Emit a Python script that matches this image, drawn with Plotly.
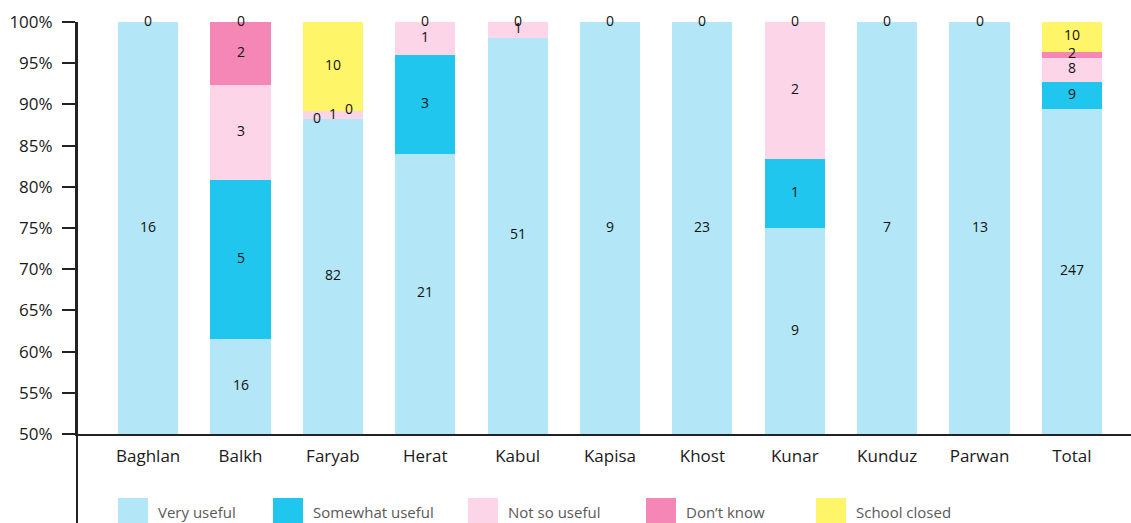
import numpy as np
import plotly.graph_objects as go

categories = ["Baghlan", "Balkh", "Faryab", "Herat", "Kabul", "Kapisa", "Khost",
              "Kunar", "Kunduz", "Parwan", "Total"]
very_useful = [16, 16, 82, 21, 51, 9, 23, 9, 7, 13, 247]
somewhat_useful = [0, 5, 0, 3, None, 0, 0, 1, 0, 0, 9]
not_so_useful = [0, 3, 1, 1, 1, 0, 0, 2, 0, 0, 8]
dont_know = [0, 2, 0, 0, 0, 0, 0, 0, 0, 0, 2]
school_closed = [0, 0, 10, 0, 0, 0, 0, 0, 0, 0, 10]

series_names = ["Very useful", "Somewhat useful", "Not so useful", "Don’t know", "School closed"]
series_values = [very_useful, somewhat_useful, not_so_useful, dont_know, school_closed]
series_colors = ["#B3E7F8", "#21C6EE", "#FDD5E8", "#F587B6", "#FFF568"]
y_ticks = [50, 55, 60, 65, 70, 75, 80, 85, 90, 95, 100]

FONT = "Open Sans"
W, H = 1131, 523
ML, MR, MT, MB = 77, 0, 22, 89
PW, PH = W - ML - MR, H - MT - MB
Y0, Y1 = y_ticks[0], y_ticks[-1]

fig = go.Figure()
for name, vals, col in zip(series_names, series_values, series_colors):
    fig.add_trace(go.Bar(x=categories, y=vals, name=name, marker_color=col,
                         marker_line_width=0, width=0.65, showlegend=False))

# labels at the centre of the visible part of each segment
raw = np.array([[np.nan if v is None else v for v in s] for s in series_values], dtype=float)
vals = np.nan_to_num(raw)
totals = vals.sum(axis=0)
pct = vals / totals * 100
top = np.cumsum(pct, axis=0)
bot = top - pct
mid = (np.clip(top, Y0, Y1) + np.clip(bot, Y0, Y1)) / 2
px_per_pct = PH / (Y1 - Y0)
for j, cat in enumerate(categories):
    items = [(round(mid[i, j], 6), int(vals[i, j])) for i in range(len(series_names))
             if not np.isnan(raw[i, j])]
    items = list(dict.fromkeys(items))  # identical label at identical spot drawn once
    uniq = sorted(set(y for y, _ in items))
    clusters, cur = [], [uniq[0]]
    for y in uniq[1:]:
        if (y - cur[-1]) * px_per_pct < 6:
            cur.append(y)
        else:
            clusters.append(cur)
            cur = [y]
    clusters.append(cur)
    shift = {}
    for c in clusters:
        n = len(c)
        for k, y in enumerate(c):
            shift[y] = (k - (n - 1) / 2) * 16
    for y, v in items:
        fig.add_annotation(x=cat, y=y, text=str(v), showarrow=False,
                           xshift=shift[y], yshift=2,
                           font=dict(family=FONT, size=14, color="#111111"))

# legend built from series names/colours
leg_x = [118, 273, 468, 646, 816]
for name, col, lx in zip(series_names, series_colors, leg_x):
    fig.add_shape(type="rect", xref="paper", yref="paper",
                  x0=(lx - ML) / PW, x1=(lx + 30 - ML) / PW,
                  y0=(MT + PH - 526) / PH, y1=(MT + PH - 498) / PH,
                  fillcolor=col, line_width=0, layer="above")
    fig.add_annotation(xref="paper", yref="paper", x=(lx + 38 - ML) / PW,
                       y=(MT + PH - 512) / PH, text=name, showarrow=False,
                       xanchor="left", yanchor="middle",
                       font=dict(family=FONT, size=15, color="#595959"))

# y axis line extending down through the legend area
fig.add_shape(type="line", xref="paper", yref="paper", x0=0, x1=0,
              y0=(MT + PH - H) / PH, y1=1, line=dict(color="#222222", width=2))

fig.update_layout(
    width=W, height=H, barmode="stack", barnorm="percent",
    margin=dict(l=ML, r=MR, t=MT, b=MB),
    plot_bgcolor="white", paper_bgcolor="white",
    font=dict(family=FONT, color="#262626"),
    xaxis=dict(range=[-0.77, 10.64], showline=True, linecolor="#222222", linewidth=2,
               ticks="", tickfont=dict(size=17, color="#1a1a1a"), showgrid=False,
               ticklabelstandoff=6),
    yaxis=dict(range=[Y0, Y1], tickvals=y_ticks,
               ticktext=[f"{t}%" for t in y_ticks], ticks="outside", ticklen=13,
               tickwidth=2, tickcolor="#222222", showline=True, linecolor="#222222",
               linewidth=2, showgrid=False, zeroline=False,
               tickfont=dict(size=17, color="#1a1a1a"), ticklabelstandoff=6),
)
fig.write_html("out.html", config={"displayModeBar": False},
               post_script="document.body.style.margin='0';")
